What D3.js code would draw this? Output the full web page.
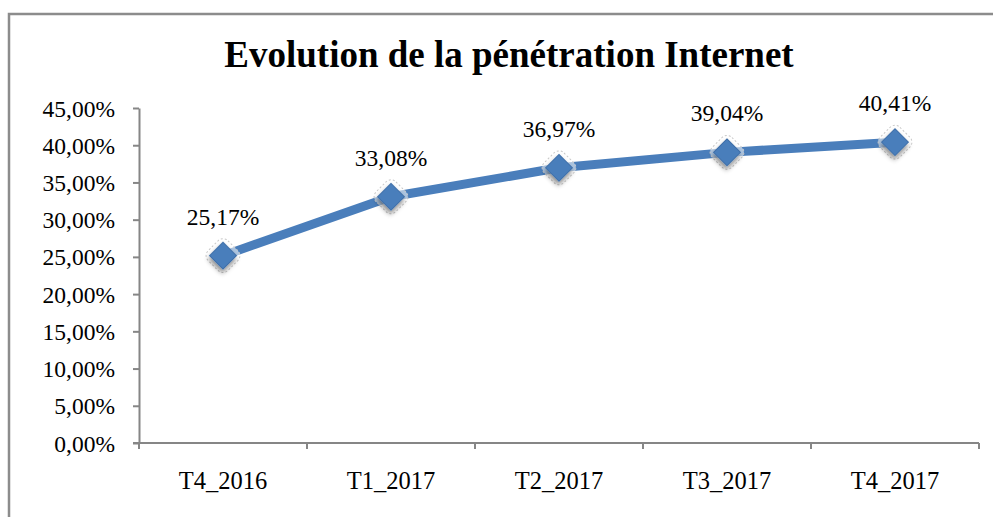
<!DOCTYPE html>
<html>
<head>
<meta charset="utf-8">
<script src="https://cdn.jsdelivr.net/npm/d3@7"></script>
<style>
    body { margin: 0; background: #fff; }
    svg { display: block; }
</style>
</head>
<body>
<svg id="chart" width="993" height="517"></svg>
<script>
/**
 * Chart data
 */
var quarters = ["T4_2016", "T1_2017", "T2_2017", "T3_2017", "T4_2017"];
var penetration = [25.17, 33.08, 36.97, 39.04, 40.41];
var yTicks = [0, 5, 10, 15, 20, 25, 30, 35, 40, 45];

var titleText = "Evolution de la pénétration Internet";

function fmt(v){
    return v.toFixed(2).replace(".", ",") + "%";
}

function drawChart(){
    let svg = d3.select("#chart");
    let serif = "'Liberation Serif', 'DejaVu Serif', serif";

    // outer frame (right and bottom edges fall off the picture)
    svg.append("rect")
        .attr("x", 9)
        .attr("y", 14)
        .attr("width", 1010)
        .attr("height", 540)
        .style("fill", "none")
        .style("stroke", "#8c8c8c")
        .style("stroke-width", 2.5);

    svg.append("text")
        .attr("x", 509)
        .attr("y", 67)
        .attr("text-anchor", "middle")
        .style("font-family", serif)
        .style("font-weight", "bold")
        .style("font-size", "37px")
        .text(titleText);

    // plot area
    let left = 139, right = 979, top = 108, bottom = 443;

    let xScale = d3.scaleBand()
        .domain(quarters)
        .range([left, right]);

    let yScale = d3.scaleLinear()
        .domain([0, 45])
        .range([bottom, top]);

    // y axis
    let yAxis = d3.axisLeft(yScale)
        .tickValues(yTicks)
        .tickSize(6)
        .tickSizeOuter(0)
        .tickPadding(18)
        .tickFormat(fmt);

    let gy = svg.append("g")
        .attr("transform", `translate(${left},0)`)
        .call(yAxis);

    // x axis with ticks between categories
    let gx = svg.append("g")
        .attr("transform", `translate(0,${bottom})`);

    gx.append("line")
        .attr("x1", left - 6)
        .attr("x2", right)
        .attr("y1", 0)
        .attr("y2", 0);

    let bounds = quarters.map(function(q){ return xScale(q); }).concat([right]);
    gx.selectAll("line.tick")
        .data(bounds)
        .enter()
        .append("line")
        .attr("class", "tick")
        .attr("x1", function(d){ return d; })
        .attr("x2", function(d){ return d; })
        .attr("y1", 0)
        .attr("y2", 6);

    gx.selectAll("text")
        .data(quarters)
        .enter()
        .append("text")
        .attr("x", function(d){ return xScale(d) + xScale.bandwidth() / 2; })
        .attr("y", 46)
        .attr("text-anchor", "middle")
        .text(function(d){ return d; });

    [gx, gy].forEach(function(g){
        g.selectAll("line, path")
            .style("stroke", "#868686")
            .style("stroke-width", 2);
        g.selectAll("text")
            .style("font-family", serif)
            .style("font-size", "23.5px")
            .style("fill", "#000");
    });
    gy.selectAll("text").attr("dy", "0.34em");
    gx.selectAll("text").style("font-size", "24.5px");

    // shadow for markers
    let defs = svg.append("defs");
    let filter = defs.append("filter")
        .attr("id", "shadow")
        .attr("x", "-50%").attr("y", "-50%")
        .attr("width", "200%").attr("height", "200%");
    filter.append("feDropShadow")
        .attr("dx", 2)
        .attr("dy", 3)
        .attr("stdDeviation", 2.5)
        .attr("flood-color", "#000")
        .attr("flood-opacity", 0.45);

    let cx = function(d, i){ return xScale(quarters[i]) + xScale.bandwidth() / 2; };
    let cy = function(d){ return yScale(d); };

    let line = d3.line()
        .x(function(d, i){ return cx(d, i); })
        .y(function(d){ return cy(d); });

    svg.append("path")
        .datum(penetration)
        .attr("d", line)
        .style("fill", "none")
        .style("stroke", "#4a7ebb")
        .style("stroke-width", 9)
        .style("stroke-linejoin", "round");

    let points = svg.selectAll("g.pt")
        .data(penetration)
        .enter()
        .append("g")
        .attr("class", "pt")
        .attr("transform", function(d, i){ return `translate(${cx(d, i)},${cy(d)})`; });

    // faint glow outline
    points.append("rect")
        .attr("x", -14).attr("y", -14)
        .attr("width", 28).attr("height", 28)
        .attr("rx", 7)
        .attr("transform", "rotate(45)")
        .style("fill", "#fff")
        .style("fill-opacity", 0.55)
        .style("stroke", "#c8c8c8")
        .style("stroke-width", 1)
        .style("stroke-dasharray", "2,2");

    points.append("rect")
        .attr("x", -9.5).attr("y", -9.5)
        .attr("width", 19).attr("height", 19)
        .attr("transform", "rotate(45)")
        .attr("filter", "url(#shadow)")
        .style("fill", "#4a7ebb")
        .style("stroke", "#3f6fa8")
        .style("stroke-width", 1);

    svg.selectAll("text.val")
        .data(penetration)
        .enter()
        .append("text")
        .attr("class", "val")
        .attr("x", function(d, i){ return cx(d, i); })
        .attr("y", function(d){ return cy(d) - 31; })
        .attr("text-anchor", "middle")
        .style("font-family", serif)
        .style("font-size", "23.5px")
        .text(fmt);
}

window.onload = function(){
    drawChart();
};
</script>
</body>
</html>
